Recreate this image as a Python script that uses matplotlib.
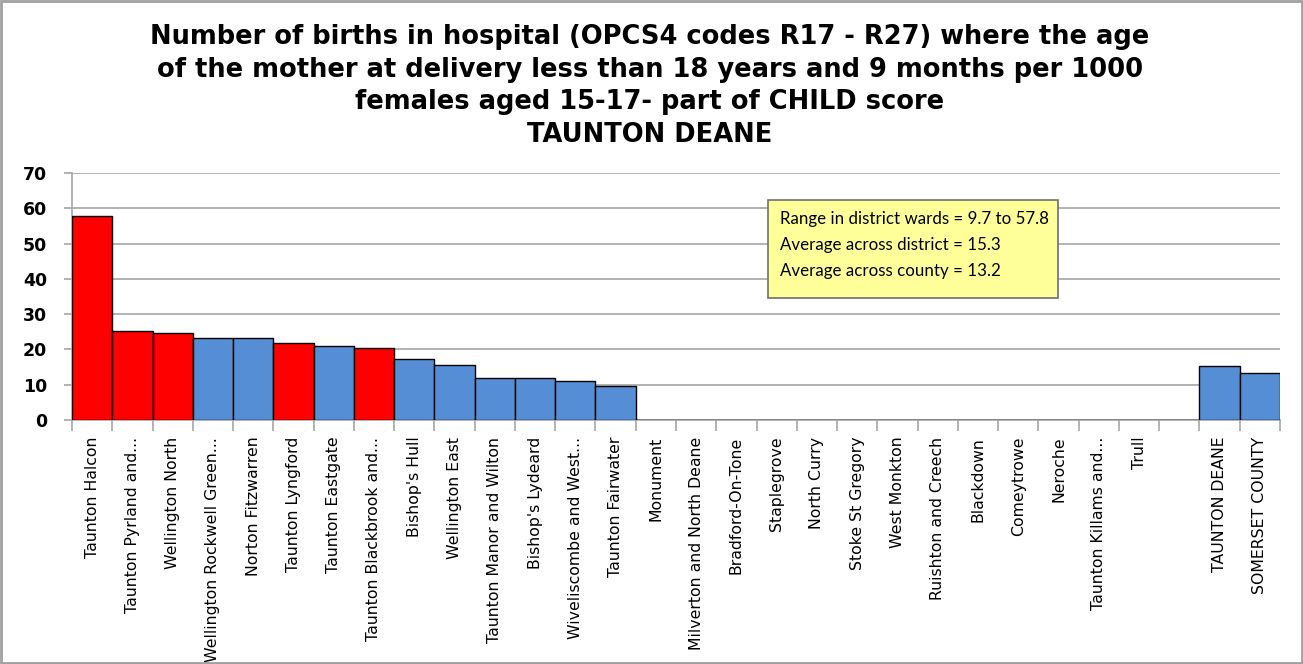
import matplotlib
matplotlib.use("Agg")
import matplotlib.pyplot as plt
from matplotlib.patches import Rectangle
import numpy as np

wards = ["Taunton Halcon", "Taunton Pyrland and...", "Wellington North",
         "Wellington Rockwell Green...", "Norton Fitzwarren", "Taunton Lyngford",
         "Taunton Eastgate", "Taunton Blackbrook and...", "Bishop's Hull",
         "Wellington East", "Taunton Manor and Wilton", "Bishop's Lydeard",
         "Wiveliscombe and West...", "Taunton Fairwater", "Monument",
         "Milverton and North Deane", "Bradford-On-Tone", "Staplegrove",
         "North Curry", "Stoke St Gregory", "West Monkton", "Ruishton and Creech",
         "Blackdown", "Comeytrowe", "Neroche", "Taunton Killams and...", "Trull",
         "", "TAUNTON DEANE", "SOMERSET COUNTY"]
values = [57.8, 25.2, 24.6, 23.2, 23.2, 21.8, 21.0, 20.4, 17.3, 15.6, 11.9,
          11.9, 11.0, 9.7, 0, 0, 0, 0, 0, 0, 0, 0, 0, 0, 0, 0, 0,
          0, 15.3, 13.2]
red_wards = ["Taunton Halcon", "Taunton Pyrland and...", "Wellington North",
             "Taunton Lyngford", "Taunton Blackbrook and..."]

title = ("Number of births in hospital (OPCS4 codes R17 - R27) where the age\n"
         "of the mother at delivery less than 18 years and 9 months per 1000\n"
         "females aged 15-17- part of CHILD score\nTAUNTON DEANE")
box_text = ("Range in district wards = 9.7 to 57.8\n"
            "Average across district = 15.3\n"
            "Average across county = 13.2")

fig = plt.figure(figsize=(13.03, 6.64), dpi=100)
W, H = 1303, 664
ax = fig.add_axes([72 / W, 1 - 420 / H, (1280 - 72) / W, (420 - 173) / H])

x = np.arange(len(wards))
colors = ["#FF0000" if w in red_wards else "#558ED5" for w in wards]
ax.bar(x, values, width=1.0, color=colors, edgecolor="black", linewidth=1.0, zorder=3)

ax.set_xlim(-0.5, len(wards) - 0.5)
ax.set_ylim(0, 70)
ax.set_yticks(range(0, 71, 10))
ax.yaxis.grid(True, color="#a6a6a6", linewidth=1.2, zorder=0)
for s in ["top", "right"]:
    ax.spines[s].set_visible(False)
for s in ["left", "bottom"]:
    ax.spines[s].set_color("#a6a6a6")
    ax.spines[s].set_linewidth(1.2)

ax.set_xticks(x)
ax.set_xticklabels(wards, rotation=90, fontsize=11.3, family="Liberation Sans Narrow", va="top")
ax.tick_params(axis="x", length=0, pad=12)
ax.set_xticks(np.arange(-0.5, len(wards)), minor=True)
ax.tick_params(axis="x", which="minor", length=8, color="#a6a6a6", width=1.2)
ax.tick_params(axis="y", length=6, color="#a6a6a6", width=1.2, pad=12)
for lab in ax.get_yticklabels():
    lab.set_fontsize(12.5)
    lab.set_fontweight("bold")

fig.text(650 / W, 1 - 24 / H, title, ha="center", va="top", fontsize=18.5,
         fontweight="bold", linespacing=1.33)

# yellow summary box
fig.patches.append(Rectangle((768 / W, 1 - 298 / H), (1058 - 768) / W, 98 / H,
                             transform=fig.transFigure, facecolor="#FFFF99",
                             edgecolor="#707070", linewidth=1.2, zorder=5))
fig.text(780 / W, 1 - 245 / H, box_text, ha="left", va="center", fontsize=12.2,
         family="Lato", linespacing=1.75, zorder=6)

fig.patches.append(Rectangle((0.001, 0.001), 0.998, 0.997, transform=fig.transFigure,
                             fill=False, edgecolor="#a0a0a0", linewidth=2))

fig.savefig("out.png", dpi=100)
